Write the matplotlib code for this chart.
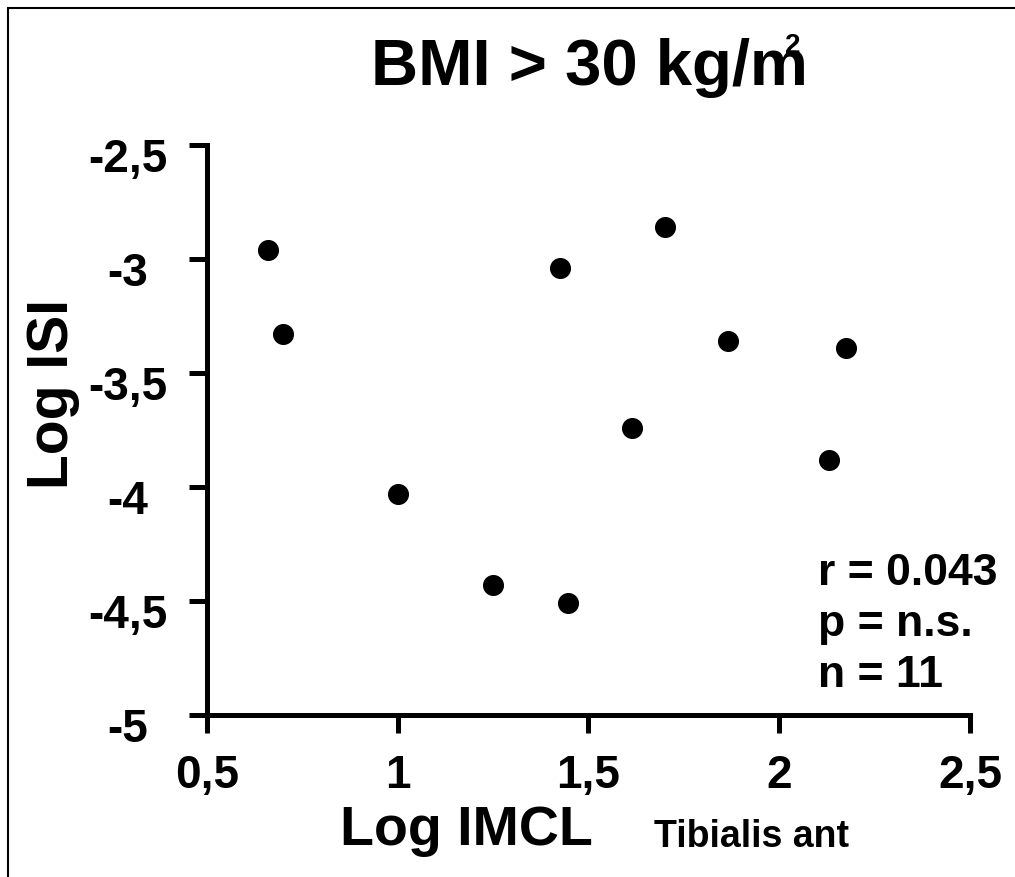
import matplotlib
matplotlib.use('Agg')
import matplotlib.pyplot as plt
from matplotlib.patches import Rectangle
from matplotlib.transforms import ScaledTranslation

# valori
log_imcl = [0.66, 0.70, 1.00, 1.25, 1.425, 1.445, 1.615, 1.70, 1.865, 2.13, 2.175]
log_isi = [-2.96, -3.33, -4.03, -4.43, -3.04, -4.51, -3.74, -2.86, -3.36, -3.88, -3.39]

xticks = [0.5, 1, 1.5, 2, 2.5]
xticklabels = ['0,5', '1', '1,5', '2', '2,5']
yticks = [-5, -4.5, -4, -3.5, -3, -2.5]
yticklabels = ['-5', '-4,5', '-4', '-3,5', '-3', '-2,5']
stats = ['r = 0.043', 'p = n.s.', 'n = 11']

plt.rcParams['font.family'] = ['Liberation Sans', 'DejaVu Sans']
plt.rcParams['font.weight'] = 'bold'

W, H = 1015, 877
fig = plt.figure(figsize=(W / 100, H / 100), dpi=100)

def px(x, y):
    # da pixel a coordinate figura
    return x / W, 1 - y / H

ax = fig.add_axes([207 / W, 1 - 715 / H, (970 - 207) / W, (715 - 145) / H])
ax.scatter(log_imcl, log_isi, s=200, color='black', zorder=3, clip_on=False)

ax.set_xlim(0.5, 2.5)
ax.set_ylim(-5, -2.5)
ax.set_xticks(xticks)
ax.set_xticklabels(xticklabels)
ax.set_yticks(yticks)
ax.set_yticklabels(yticklabels)

for s in ['top', 'right']:
    ax.spines[s].set_visible(False)
for s in ['left', 'bottom']:
    ax.spines[s].set_linewidth(3.6)

ax.tick_params(axis='both', direction='out', length=13, width=3.6,
               labelsize=33)
ax.tick_params(axis='x', pad=15)
ax.tick_params(axis='y', pad=44)
for lab in ax.get_yticklabels():
    lab.set_horizontalalignment('center')
    lab.set_transform(lab.get_transform() + ScaledTranslation(0, -0.10, fig.dpi_scale_trans))
for lab in ax.get_xticklabels() + ax.get_yticklabels():
    lab.set_fontweight('bold')

# titolo con il 2 sovrapposto alla m
fig.text(*px(371, 85), 'BMI > 30 kg/m', fontsize=47, fontweight='bold',
         ha='left', va='baseline')
fig.text(*px(785, 53), '2', fontsize=20, fontweight='bold',
         ha='left', va='baseline')

fig.text(*px(466, 845), 'Log IMCL', fontsize=40, fontweight='bold',
         ha='center', va='baseline')
fig.text(*px(752, 847), 'Tibialis ant', fontsize=27, fontweight='bold',
         ha='center', va='baseline')
fig.text(*px(68, 394), 'Log ISI', fontsize=41, fontweight='bold',
         rotation=90, rotation_mode='anchor', ha='center', va='baseline')

for i, line in enumerate(stats):
    fig.text(*px(818, 585 + i * 51), line, fontsize=32, fontweight='bold',
             ha='left', va='baseline')

# cornice in alto e a sinistra
fig.add_artist(Rectangle((8 / W, -0.1), 1.2, 1.1 - 8 / H, transform=fig.transFigure,
                         fill=False, edgecolor='black', linewidth=1.5))

fig.savefig('out.png', dpi=100)
